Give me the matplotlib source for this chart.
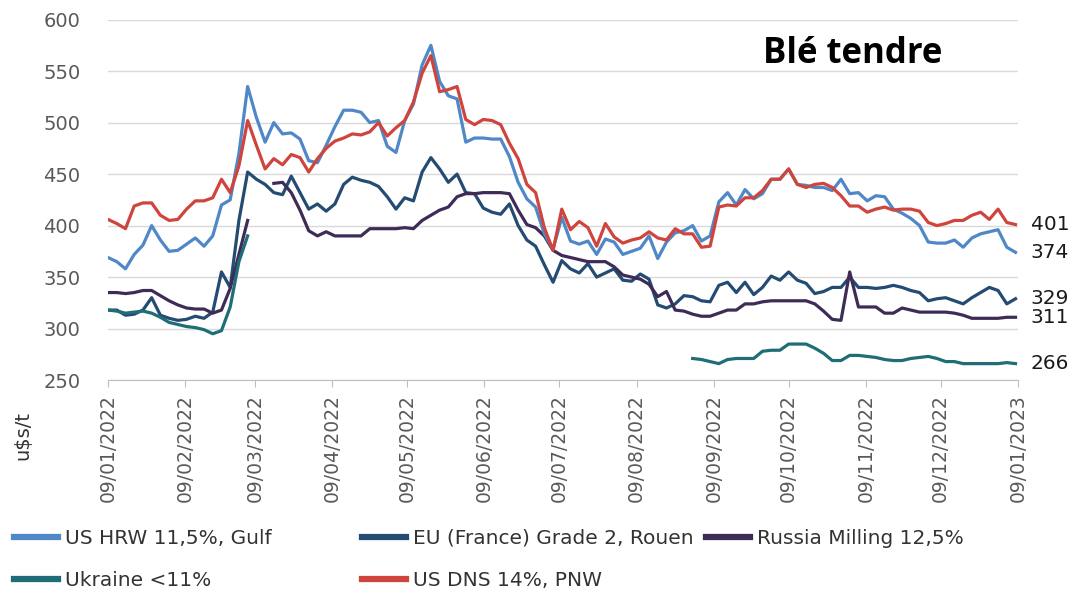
"""Blé tendre: prix export US/EU/Russie/Ukraine, janv. 2022 - janv. 2023."""
import numpy as np
import pandas as pd
import matplotlib
matplotlib.use("Agg")
import matplotlib.pyplot as plt
import matplotlib.dates as mdates
from matplotlib.lines import Line2D

nan = np.nan

# one point every 3.5 days from 09/01/2022
dates = pd.date_range("2022-01-09", periods=105, freq="84h")

us_hrw = [369, 365, 358, 372, 381, 400, 386, 375, 376, 382, 388, 380, 390, 420, 425,
          470, 535, 505, 481, 500, 489, 490, 484, 463, 461, 478, 496, 512, 512, 510,
          500, 502, 477, 471, 502, 518, 556, 575, 540, 526, 523, 481, 485, 485, 484,
          484, 467, 442, 426, 418, 392, 377, 408, 385, 382, 385, 372, 387, 384, 372,
          375, 378, 390, 368, 384, 393, 395, 400, 385, 390, 423, 432, 420, 435, 426,
          431, 445, 445, 455, 440, 439, 437, 437, 434, 445, 431, 432, 424, 429, 428,
          416, 412, 407, 400, 384, 383, 383, 386, 379, 388, 392, 394, 396, 379, 374]

eu_rouen = [318, 318, 313, 314, 318, 330, 313, 310, 308, 309, 312, 310, 316, 355, 340,
            405, 452, 445, 440, 432, 430, 448, 432, 416, 421, 414, 421, 440, 447, 444,
            442, 438, 428, 416, 427, 424, 452, 466, 455, 442, 450, 432, 431, 417, 413,
            411, 421, 400, 386, 380, 362, 345, 366, 358, 354, 363, 350, 354, 358, 347,
            346, 353, 348, 323, 320, 324, 332, 331, 327, 326, 342, 345, 335, 345, 333,
            340, 351, 347, 355, 347, 344, 334, 336, 340, 340, 350, 340, 340, 339, 340,
            342, 340, 337, 335, 327, 329, 330, 327, 324, 330, 335, 340, 337, 324, 329]

russia = [335, 335, 334, 335, 337, 337, 332, 327, 323, 320, 319, 319, 315, 318, 339,
          372, 405, nan, nan, 441, 442, 432, 415, 395, 390, 394, 390, 390, 390, 390,
          397, 397, 397, 397, 398, 397, 405, 410, 415, 418, 428, 431, 431, 432, 432,
          432, 431, 415, 401, 398, 390, 376, 371, 369, 367, 365, 365, 365, 360, 352,
          350, 348, 343, 331, 336, 318, 317, 314, 312, 312, 315, 318, 318, 324, 324,
          326, 327, 327, 327, 327, 327, 324, 317, 309, 308, 355, 321, 321, 321, 315,
          315, 320, 318, 316, 316, 316, 316, 315, 313, 310, 310, 310, 310, 311, 311]

ukraine = ([318, 317, 315, 316, 317, 315, 311, 306, 304, 302, 301, 299, 295, 298, 321,
            365, 390] + [nan] * 50 +
           [271, 270, 268, 266, 270, 271, 271, 271, 278, 279, 279, 285, 285, 285, 281,
            276, 269, 269, 274, 274, 273, 272, 270, 269, 269, 271, 272, 273, 271, 268,
            268, 266, 266, 266, 266, 266, 267, 266])

us_dns = [406, 402, 397, 419, 422, 422, 410, 405, 406, 416, 424, 424, 427, 445, 432,
          458, 502, 478, 455, 465, 459, 469, 466, 452, 465, 475, 482, 485, 489, 488,
          491, 500, 487, 495, 502, 520, 548, 565, 530, 532, 535, 503, 498, 503, 502,
          498, 480, 465, 440, 432, 398, 376, 416, 396, 404, 398, 380, 402, 389, 383,
          386, 388, 394, 388, 386, 397, 392, 392, 379, 380, 418, 420, 419, 427, 427,
          434, 445, 445, 455, 440, 437, 440, 441, 437, 429, 419, 419, 413, 416, 418,
          415, 416, 416, 414, 403, 400, 402, 405, 405, 410, 413, 406, 416, 403, 401]

series = [
    ("US HRW 11,5%, Gulf", us_hrw, "#4F87C7"),
    ("EU (France) Grade 2, Rouen", eu_rouen, "#244B72"),
    ("Russia Milling 12,5%", russia, "#3E2C57"),
    ("Ukraine <11%", ukraine, "#1F6D76"),
    ("US DNS 14%, PNW", us_dns, "#CF453D"),
]
# draw order: red on top of blue like the original
draw_order = [1, 2, 3, 0, 4]
end_labels = [374, 329, 311, 266, 401]

fig = plt.figure(figsize=(10.76, 5.93), dpi=100)
ax = fig.add_axes([0.1004, 0.359, 0.8457, 0.608])

handles = {}
for i in draw_order:
    name, vals, col = series[i]
    ln, = ax.plot(dates, vals, color=col, lw=2.3, solid_joinstyle="round")
    handles[name] = ln

# last values written at the right end
for (name, vals, col), lab in zip(series, end_labels):
    ax.annotate(str(lab), xy=(dates[-1], vals[-1]), xytext=(11, 0),
                textcoords="offset points", va="center", ha="left",
                fontsize=14.5, color="#1a1a1a", annotation_clip=False)

ax.set_ylim(250, 600)
ax.set_yticks(np.arange(250, 601, 50))
ax.set_xlim(pd.Timestamp("2022-01-09"), pd.Timestamp("2023-01-09"))
ticks = pd.date_range("2022-01-09", periods=13, freq=pd.DateOffset(months=1))
ax.set_xticks(list(ticks))
ax.xaxis.set_major_formatter(mdates.DateFormatter("%d/%m/%Y"))

ax.grid(axis="y", color="#D9D9D9", lw=1)
ax.set_axisbelow(True)
for s in ("top", "right", "left"):
    ax.spines[s].set_visible(False)
ax.spines["bottom"].set_color("#BFBFBF")
ax.tick_params(axis="y", length=0, pad=20, labelsize=14, labelcolor="#595959")
ax.tick_params(axis="x", length=5, color="#BFBFBF", pad=5, labelsize=13.5,
               labelcolor="#595959", labelrotation=90)

fig.text(0.021, 0.265, "u$s/t", rotation=90, ha="center", va="center",
         fontsize=14, color="#333333")
ax.text(0.818, 0.905, "Blé tendre", transform=ax.transAxes, ha="center", va="center",
        fontsize=25, fontweight="bold", family="Open Sans", color="black")

# legend in three fixed columns, two rows
columns = [
    (0.013, ["US HRW 11,5%, Gulf", "Ukraine <11%"]),
    (0.336, ["EU (France) Grade 2, Rouen", "US DNS 14%, PNW"]),
    (0.656, ["Russia Milling 12,5%"]),
]
for x0, names in columns:
    hs = [Line2D([], [], color=handles[n].get_color(), lw=4.5) for n in names]
    fig.legend(hs, names, loc="upper left", bbox_to_anchor=(x0, 0.108),
               frameon=False, fontsize=14.5, handlelength=2.2, handletextpad=0.35,
               labelspacing=1.15, borderpad=0, borderaxespad=0,
               labelcolor="#333333")

fig.savefig("out.png", dpi=100)
